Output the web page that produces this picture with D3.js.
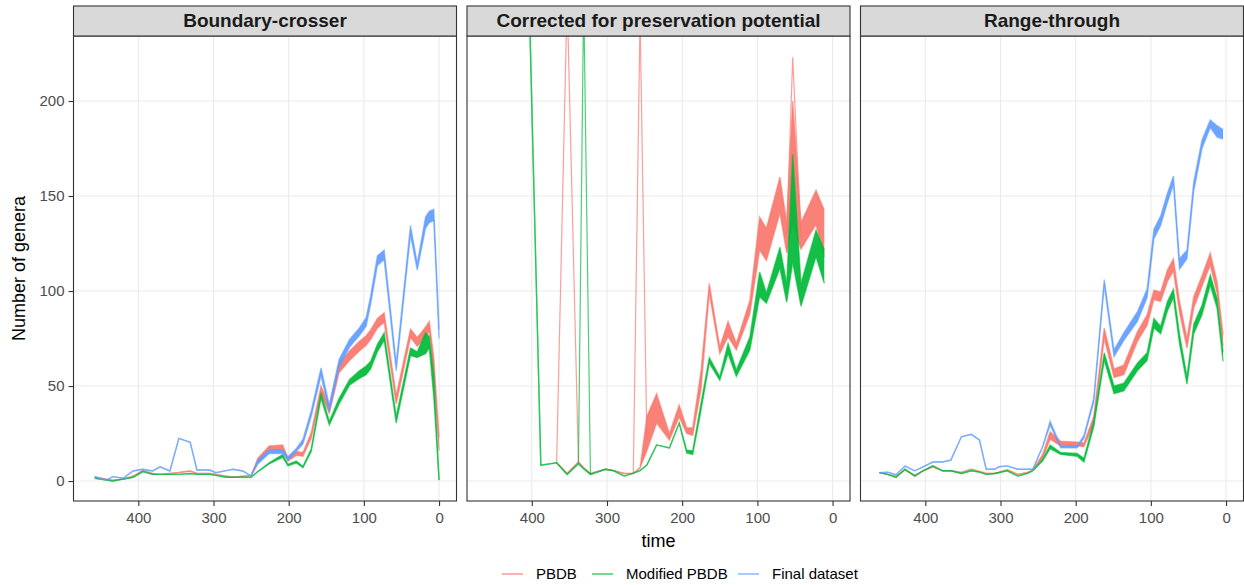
<!DOCTYPE html>
<html>
  <head>
    <meta charset="utf-8">
    <script src="https://cdn.jsdelivr.net/npm/d3@7"></script>
    <style>
      body { margin: 0; background: #ffffff; }
      svg { font-family: "Liberation Sans", Arial, sans-serif; }
    </style>
  </head>
  <body>
    <script>
      // ---- data (lo/hi = spread of the replicate lines) ----
      var panelNames = ["Boundary-crosser", "Corrected for preservation potential", "Range-through"];
      var seriesNames = ["PBDB", "Modified PBDB", "Final dataset"];
      var xTicks = [400, 300, 200, 100, 0];
      var yTicks = [0, 50, 100, 150, 200];

      // Boundary-crosser
      var timeBC = [458, 442, 434, 420, 407, 394, 381, 371, 358, 346, 331, 322, 305, 297, 283, 274, 261, 250, 241, 226,
                    208, 201, 190, 181, 170, 157, 146, 133, 119, 106, 97, 91, 82, 73, 57, 38, 29, 18, 13, 7, 0];
      var pbdbBC_lo = [2, 1, 0.5, 1, 2.5, 5.5, 4, 3.5, 4, 4.5, 5.3, 4, 4, 3.5, 2.5, 2, 2.5, 3, 10, 16,
                       16.5, 10.5, 13.5, 13, 22.5, 46, 35.5, 57, 63.5, 68.5, 71.5, 74.5, 80.5, 83.5, 40.5, 75.5, 71, 75.5, 79, 55, 16];
      var pbdbBC_hi = [2, 1, 0.5, 1, 2.5, 5.5, 4, 3.5, 4, 4.5, 5.3, 4, 4, 3.5, 2.5, 2, 2.5, 3, 12, 18.5,
                       19, 12, 15.5, 15, 25.5, 50, 39.5, 61.5, 68.5, 73.5, 76.5, 79.5, 85.5, 88.5, 45, 80, 75.5, 81, 84, 65, 23];
      var modBC_lo = [1.5, 0.5, 0, 1, 2, 5, 3.5, 3.5, 3.5, 3.5, 4, 3.5, 3.5, 3, 2, 2, 2, 2, 5, 9,
                      12.5, 8, 9.5, 7, 15.5, 43.5, 29.5, 40.5, 50.5, 54, 56, 59, 68, 74, 30.5, 66, 65, 67, 70, 44, 0.5];
      var modBC_hi = [1.5, 0.5, 0, 1, 2, 5, 3.5, 3.5, 3.5, 3.5, 4, 3.5, 3.5, 3, 2, 2, 2, 2, 5, 9.6,
                      14, 8.8, 10.5, 7.8, 17, 46.5, 31.5, 43.5, 53.5, 58, 60.5, 63, 72, 78, 34, 70, 68, 78, 76, 56, 0.5];
      var finalBC_lo = [2.3, 0.5, 2.3, 1.5, 5.3, 6.2, 5.3, 7.5, 5.3, 22.5, 20.4, 5.8, 5.8, 4.4, 5.5, 6.2, 5.3, 2.6, 9, 14.5,
                        14.5, 11, 15.5, 19.5, 34, 55.5, 36.5, 60, 70.5, 76.5, 81.5, 93, 113.5, 116.5, 58, 129.5, 111, 133, 136, 137, 75];
      var finalBC_hi = [2.3, 0.5, 2.3, 1.5, 5.3, 6.2, 5.3, 7.5, 5.3, 22.5, 20.4, 5.8, 5.8, 4.4, 5.5, 6.2, 5.3, 2.6, 11, 16.5,
                        16.5, 12.8, 17, 22, 37, 59.5, 40, 64, 74.5, 80.5, 86, 97.5, 118.5, 121.5, 62, 134.5, 114.5, 139, 142, 143, 80];

      // Corrected for preservation potential (no final dataset here)
      var timeCP = [407, 403, 388, 367, 353, 338, 331, 322, 302, 291, 277, 265, 256, 247, 234, 217, 204, 194, 186, 175,
                    164, 150, 139, 128, 110, 97, 88, 70, 61, 53, 42, 22, 11];
      var pbdbCP_lo = [null, null, null, 9.6, 4, 10, 7, 4, 6.2, 5.5, 4, 4, 7, 16, 30.5, 21.6, 33.7, 25, 24, 48,
                       99, 67, 76, 69, 88, 121.6, 116, 141, 120, 135, 122, 135, 118];
      var pbdbCP_hi = [null, null, null, 9.6, 4, 10, 7, 4, 6.2, 5.5, 4, 4, 7, 34, 46, 25, 40, 28, 28, 58,
                       104, 70.5, 84, 72.5, 95, 139, 133, 160, 136, 200, 136, 153, 142.6];
      var modCP_lo = [300, 245, 8.3, 9.6, 3.5, 9.1, 6.5, 3.5, 6.2, 5.4, 2.6, 4.2, 5.5, 8.4, 19, 17.4, 30.5, 14.7, 14, 37,
                      62, 53, 67, 55, 69, 97, 93.5, 112, 94, 115, 92, 118, 104];
      var modCP_hi = [300, 245, 8.3, 9.6, 3.5, 9.1, 6.5, 3.5, 6.2, 5.4, 2.6, 4.2, 5.5, 8.4, 19, 17.4, 30.5, 16.3, 16, 41,
                      65, 55, 72.5, 58.4, 75.8, 110, 99, 123, 104, 172, 104, 132, 121.6];
      // single replicates that shoot far above the others
      var spikePbdbA_t = [367, 353, 338], spikePbdbA = [9.6, 255, 10];
      var spikePbdbB_t = [265, 256, 247], spikePbdbB = [4, 245, 22];
      var spikePbdbC_t = [61, 53, 42], spikePbdbC = [130, 223, 128];
      var spikeModA_t = [338, 331, 322], spikeModA = [9.1, 255, 3.5];

      // Range-through
      var timeRT = [461, 450, 439, 427, 414, 403, 390, 377, 366, 352, 339, 328, 319, 308, 302, 291, 277, 264, 257, 244,
                    234, 220, 198, 189, 176, 162, 149, 136, 118, 105, 96, 87, 78, 70, 62, 52, 43, 32, 21, 12, 4];
      var pbdbRT_lo = [4.4, 3.5, 2.6, 5.8, 3, 5.4, 7.5, 5.4, 5.4, 4.5, 6.2, 5, 4, 4, 4.5, 6, 3.5, 4.5, 5.8, 12,
                       22, 18.5, 18.5, 18, 30, 75, 54.5, 56, 73.5, 82, 95.5, 94.5, 105, 110.5, 89, 70, 91, 102.5, 113.5, 99, 71];
      var pbdbRT_hi = [4.4, 3.5, 2.6, 5.8, 3, 5.4, 7.5, 5.4, 5.4, 4.5, 6.2, 5, 4, 4, 4.5, 6, 3.5, 4.5, 5.8, 14,
                       26, 21, 20.5, 20, 34, 80.5, 59, 61, 78.5, 87.5, 100.5, 99.5, 111, 117, 95, 75, 97, 108, 120, 105, 77];
      var modRT_lo = [4.4, 3.5, 1.9, 6.2, 2.6, 5.4, 8, 5.4, 5.4, 4, 5.4, 4.7, 3.5, 4, 4.5, 5.4, 2.6, 4, 5.4, 10.5,
                      17, 14, 13, 10, 28.5, 63.5, 46, 47.5, 58, 63.5, 80.5, 77.5, 89.5, 96.5, 72.5, 51, 77.5, 87.5, 103, 91, 63];
      var modRT_hi = [4.4, 3.5, 1.9, 6.2, 2.6, 5.4, 8, 5.4, 5.4, 4, 5.4, 4.7, 3.5, 4, 4.5, 5.4, 2.6, 4, 5.4, 11.5,
                      19, 15, 14.5, 12, 31.5, 67.5, 50, 51.5, 62, 67.5, 85.5, 81.5, 94.5, 101, 77.5, 55, 82.5, 92.5, 108.5, 96, 68];
      var finalRT_lo = [4.4, 4.7, 3.3, 7.9, 5.4, 7.5, 10, 10, 11, 23.3, 24.6, 21.6, 6.2, 6.2, 7.5, 8, 6.2, 6.2, 6.2, 18,
                        29.5, 17.5, 17.5, 22.5, 41.5, 103, 65.5, 74, 84, 96.5, 127.5, 134.5, 146.5, 156, 111.5, 117, 152.5, 175, 186, 181, 180];
      var finalRT_hi = [4.4, 4.7, 3.3, 7.9, 5.4, 7.5, 10, 10, 11, 23.3, 24.6, 21.6, 6.2, 6.2, 7.5, 8, 6.2, 6.2, 6.2, 18,
                        31.5, 18.5, 18.5, 24, 43.5, 106, 69, 78, 89, 101, 132.5, 139.5, 151.5, 160.5, 117, 121.5, 157.5, 179.5, 190, 187, 185];

      // ---- layout ----
      var width = 1244, height = 585;
      var colours = ["#F8766D", "#00BA38", "#619CFF"];
      var firstLeft = 73.5, panelW = 383, panelStep = 393.5;
      var stripTop = 6, plotTop = 36, plotBottom = 501;

      var svg = d3.select("body").append("svg")
        .attr("width", width).attr("height", height);
      svg.append("rect").attr("width", width).attr("height", height).attr("fill", "#ffffff");

      var y = d3.scaleLinear().domain([-10.5, 234.2]).range([plotBottom, plotTop]);

      // builds the per panel table out of the arrays above
      function zipSeries(time, lo, hi) {
        return time.map(function(t, i) { return {t: t, lo: lo[i], hi: hi[i]}; });
      }
      function zipLine(time, vals) {
        return time.map(function(t, i) { return {t: t, v: vals[i]}; });
      }
      var panels = [
        {name: panelNames[0], series: [zipSeries(timeBC, pbdbBC_lo, pbdbBC_hi),
                                       zipSeries(timeBC, modBC_lo, modBC_hi),
                                       zipSeries(timeBC, finalBC_lo, finalBC_hi)], spikes: []},
        {name: panelNames[1], series: [zipSeries(timeCP, pbdbCP_lo, pbdbCP_hi),
                                       zipSeries(timeCP, modCP_lo, modCP_hi), null],
         spikes: [{c: 0, d: zipLine(spikePbdbA_t, spikePbdbA)},
                  {c: 0, d: zipLine(spikePbdbB_t, spikePbdbB)},
                  {c: 0, d: zipLine(spikePbdbC_t, spikePbdbC)},
                  {c: 1, d: zipLine(spikeModA_t, spikeModA)}]},
        {name: panelNames[2], series: [zipSeries(timeRT, pbdbRT_lo, pbdbRT_hi),
                                       zipSeries(timeRT, modRT_lo, modRT_hi),
                                       zipSeries(timeRT, finalRT_lo, finalRT_hi)], spikes: []}
      ];

      panels.forEach(function(p, i) {
        var left = firstLeft + i * panelStep;
        var x = d3.scaleLinear().domain([486.2, -23.2]).range([left, left + panelW]);
        var g = svg.append("g");

        // grid
        g.selectAll(".gy").data(yTicks).enter().append("line")
          .attr("x1", left).attr("x2", left + panelW)
          .attr("y1", function(d) { return y(d); }).attr("y2", function(d) { return y(d); })
          .attr("stroke", "#EBEBEB").attr("stroke-width", 1.1);
        g.selectAll(".gx").data(xTicks).enter().append("line")
          .attr("y1", plotTop).attr("y2", plotBottom)
          .attr("x1", function(d) { return x(d); }).attr("x2", function(d) { return x(d); })
          .attr("stroke", "#EBEBEB").attr("stroke-width", 1.1);

        // clip the lines to the panel
        svg.append("clipPath").attr("id", "clip" + i).append("rect")
          .attr("x", left).attr("y", plotTop).attr("width", panelW).attr("height", plotBottom - plotTop);
        var plot = g.append("g").attr("clip-path", "url(#clip" + i + ")");

        var area = d3.area()
          .defined(function(d) { return d.lo != null; })
          .x(function(d) { return x(d.t); })
          .y0(function(d) { return y(d.lo); })
          .y1(function(d) { return y(d.hi); });
        var lineLo = d3.line().defined(function(d) { return d.lo != null; })
          .x(function(d) { return x(d.t); }).y(function(d) { return y(d.lo); });
        var lineHi = d3.line().defined(function(d) { return d.hi != null; })
          .x(function(d) { return x(d.t); }).y(function(d) { return y(d.hi); });
        var spikeLine = d3.line().x(function(d) { return x(d.t); }).y(function(d) { return y(d.v); });

        p.series.forEach(function(s, k) {
          if (!s) return;
          plot.append("path").datum(s).attr("d", area)
            .attr("fill", colours[k]).attr("opacity", 0.92);
          [lineLo, lineHi].forEach(function(l) {
            plot.append("path").datum(s).attr("d", l)
              .attr("fill", "none").attr("stroke", colours[k])
              .attr("stroke-width", 1.4).attr("stroke-opacity", 0.6);
          });
          p.spikes.filter(function(sp) { return sp.c === k; }).forEach(function(sp) {
            plot.append("path").datum(sp.d).attr("d", spikeLine)
              .attr("fill", "none").attr("stroke", colours[k])
              .attr("stroke-width", 1.2).attr("stroke-opacity", 0.7);
          });
        });

        // panel border
        g.append("rect").attr("x", left).attr("y", plotTop)
          .attr("width", panelW).attr("height", plotBottom - plotTop)
          .attr("fill", "none").attr("stroke", "#333333").attr("stroke-width", 1.1);

        // strip
        g.append("rect").attr("x", left).attr("y", stripTop)
          .attr("width", panelW).attr("height", plotTop - stripTop)
          .attr("fill", "#D9D9D9").attr("stroke", "#333333").attr("stroke-width", 1.1);
        g.append("text").attr("x", left + panelW / 2).attr("y", 27)
          .attr("text-anchor", "middle").attr("font-size", "19px").attr("font-weight", "bold")
          .attr("fill", "#1A1A1A").text(p.name);

        // x axis
        var xAxis = d3.axisBottom(x).tickValues(xTicks).tickSize(5).tickPadding(6);
        var ax = svg.append("g").attr("transform", "translate(0," + plotBottom + ")").call(xAxis);
        ax.select(".domain").remove();
        ax.selectAll("line").attr("stroke", "#333333").attr("stroke-width", 1.1);
        ax.selectAll("text").attr("fill", "#4D4D4D").attr("font-size", "15px")
          .style("font-family", "'Liberation Sans', Arial, sans-serif");

        if (i === 0) {
          var yAxis = d3.axisLeft(y).tickValues(yTicks).tickSize(5).tickPadding(4);
          var ay = svg.append("g").attr("transform", "translate(" + left + ",0)").call(yAxis);
          ay.select(".domain").remove();
          ay.selectAll("line").attr("stroke", "#333333").attr("stroke-width", 1.1);
          ay.selectAll("text").attr("fill", "#4D4D4D").attr("font-size", "15px")
            .style("font-family", "'Liberation Sans', Arial, sans-serif");
        }
      });

      // axis titles
      svg.append("text").attr("x", firstLeft + panelStep + panelW / 2).attr("y", 547)
        .attr("text-anchor", "middle").attr("font-size", "18px").attr("fill", "#000")
        .text("time");
      svg.append("text").attr("transform", "translate(25," + ((plotTop + plotBottom) / 2) + ") rotate(-90)")
        .attr("text-anchor", "middle").attr("font-size", "18px").attr("fill", "#000")
        .text("Number of genera");

      // legend
      var legendKeys = [502, 592, 738];
      var legend = svg.append("g");
      seriesNames.forEach(function(name, k) {
        legend.append("line").attr("x1", legendKeys[k]).attr("x2", legendKeys[k] + 21)
          .attr("y1", 574).attr("y2", 574)
          .attr("stroke", colours[k]).attr("stroke-width", 1.1);
        legend.append("text").attr("x", legendKeys[k] + 34).attr("y", 579)
          .attr("font-size", "15px").attr("fill", "#000").text(name);
      });
    </script>
  </body>
</html>
